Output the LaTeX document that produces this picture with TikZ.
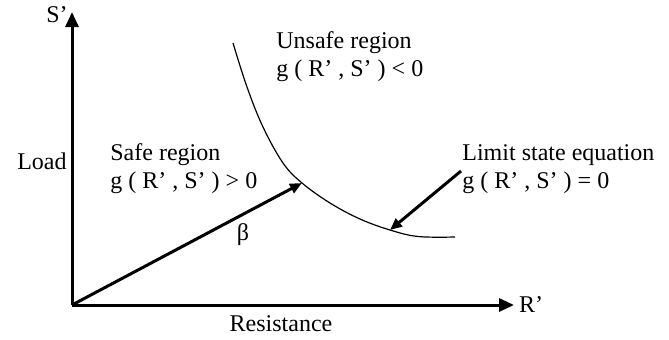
\documentclass[tikz,border=0pt]{standalone}
\usepackage{fontspec}
\setmainfont{Liberation Serif}
\usetikzlibrary{arrows.meta}
\tikzset{
  ax/.style={-{Triangle[length=7.5pt,width=6.5pt]}, line width=1.5pt},
  vec/.style={-{Triangle[length=6pt,width=5pt]}, line width=1.5pt},
  lsc/.style={line width=0.6pt},
  lbl/.style={font=\fontsize{12}{14}\selectfont, inner sep=0pt},
}

\begin{document}
\begin{tikzpicture}[x=0.5pt,y=-0.5pt]
  \useasboundingbox (0,0) rectangle (669,339);
  \coordinate (O) at (72,305);
  \coordinate (Stop) at (72,12);
  \coordinate (Rend) at (514,305);
  \coordinate (P) at (302,183);
  \coordinate (Q) at (390,230);
  \coordinate (A) at (461,171);
  \draw[ax] (O) -- (Stop);
  \draw[ax] (O) -- (Rend);
  \draw[lsc] plot[smooth,tension=0.6] coordinates {(233,43) (247,87) (263,127) (283,163) (302,183) (330,203) (360,219) (390,230) (418,236.5) (455,237)};
  \draw[vec] (O) -- (P);
  \draw[vec] (A) -- (Q);
  \node[lbl] (sp) at (57,15) {S’};
  \node[lbl] (rp) at (531,305) {R’};
  \node[lbl,anchor=east] (load) at (67,161) {Load};
  \node[lbl] (res) at (281,324) {Resistance};
  \node[lbl] (beta) at (243,235) {β};
  \node[lbl,anchor=west,align=left] (uns) at (276,57) {Unsafe region\\g ( R’ , S’ ) {<} 0};
  \node[lbl,anchor=west,align=left] (safe) at (110,169) {Safe region\\g ( R’ , S’ ) {>} 0};
  \node[lbl,anchor=west,align=left] (lim) at (462,169) {Limit state equation\\g ( R’ , S’ ) = 0};
\end{tikzpicture}
\end{document}
